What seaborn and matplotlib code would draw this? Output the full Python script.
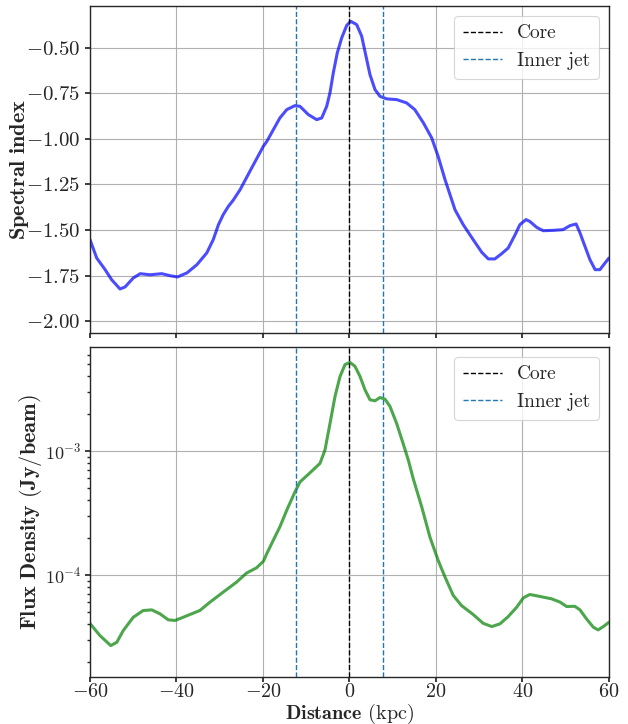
import matplotlib
matplotlib.use("Agg")
import matplotlib.pyplot as plt
import seaborn as sns
import pandas as pd

# Spectral index profile along the jet axis
alpha_kpc = [-60.0, -58.45, -56.5, -55.0, -53.06, -51.9, -50.0, -48.4, -46.1, -43.4,
             -41.5, -39.8, -37.6, -35.3, -33.0, -31.5, -30.3, -29.2, -28.0, -26.9,
             -25.3, -22.2, -19.9, -19.1, -16.1, -14.5, -12.6, -11.45, -9.53, -7.58,
             -6.43, -5.27, -4.51, -3.74, -2.82, -1.8, -0.65, 0.28, 1.66, 2.82,
             3.82, 4.74, 5.9, 7.05, 8.6, 10.9, 13.2, 15.1, 17.1, 19.0,
             20.5, 22.1, 24.4, 26.3, 28.6, 30.6, 32.1, 33.6, 35.2, 36.7,
             38.3, 39.4, 40.8, 41.7, 43.3, 44.8, 47.1, 49.4, 51.0, 52.4,
             53.3, 54.45, 55.6, 56.8, 57.9, 59.1, 60.0]
alpha_val = [-1.553, -1.654, -1.718, -1.773, -1.824, -1.813, -1.764, -1.740, -1.746, -1.740,
             -1.751, -1.758, -1.736, -1.691, -1.626, -1.553, -1.471, -1.416, -1.370, -1.337,
             -1.279, -1.141, -1.040, -1.013, -0.885, -0.839, -0.817, -0.821, -0.866, -0.894,
             -0.885, -0.821, -0.747, -0.637, -0.527, -0.445, -0.377, -0.354, -0.372, -0.436,
             -0.546, -0.647, -0.729, -0.766, -0.780, -0.784, -0.802, -0.839, -0.912, -0.994,
             -1.096, -1.224, -1.389, -1.471, -1.553, -1.623, -1.659, -1.659, -1.630, -1.599,
             -1.526, -1.471, -1.443, -1.453, -1.486, -1.504, -1.502, -1.498, -1.476, -1.467,
             -1.516, -1.590, -1.663, -1.718, -1.718, -1.681, -1.654]

# Flux density profile (Jy/beam)
flux_kpc = [-60.0, -59.6, -57.7, -55.2, -53.8, -52.3, -50.0, -47.7, -45.7, -43.8,
            -41.9, -40.35, -38.8, -36.9, -34.6, -32.25, -29.2, -26.1, -23.8, -21.5,
            -19.9, -19.1, -17.6, -16.1, -14.5, -12.6, -11.45, -9.13, -6.82, -5.66,
            -4.5, -3.35, -2.2, -1.04, 0.1, 1.27, 2.43, 3.58, 4.74, 5.9,
            7.05, 8.2, 9.36, 10.9, 12.4, 13.6, 14.75, 16.7, 18.6, 20.5,
            22.1, 24.0, 25.9, 28.6, 30.9, 32.9, 34.8, 36.7, 38.65, 40.2,
            41.7, 44.05, 46.75, 48.7, 50.2, 52.1, 53.3, 54.8, 56.4, 57.5,
            58.7, 60.0]
flux_val = [4.05e-5, 3.90e-5, 3.24e-5, 2.69e-5, 2.86e-5, 3.56e-5, 4.55e-5, 5.16e-5, 5.22e-5, 4.85e-5,
            4.34e-5, 4.29e-5, 4.50e-5, 4.79e-5, 5.16e-5, 6.03e-5, 7.26e-5, 8.75e-5, 1.035e-4, 1.14e-4,
            1.29e-4, 1.49e-4, 1.91e-4, 2.44e-4, 3.33e-4, 4.68e-4, 5.62e-4, 6.67e-4, 7.94e-4, 1.02e-3,
            1.67e-3, 2.75e-3, 3.98e-3, 4.97e-3, 5.19e-3, 4.82e-3, 4.00e-3, 3.12e-3, 2.59e-3, 2.54e-3,
            2.70e-3, 2.62e-3, 2.29e-3, 1.67e-3, 1.15e-3, 8.45e-4, 5.96e-4, 3.54e-4, 2.02e-4, 1.31e-4,
            9.59e-5, 6.82e-5, 5.66e-5, 4.79e-5, 4.07e-5, 3.83e-5, 4.03e-5, 4.61e-5, 5.48e-5, 6.53e-5,
            6.95e-5, 6.70e-5, 6.41e-5, 6.03e-5, 5.56e-5, 5.58e-5, 5.22e-5, 4.42e-5, 3.78e-5, 3.60e-5,
            3.83e-5, 4.15e-5]

core_pos = 0.0
inner_jet_pos = [-12.4, 7.7]
x_ticks = [-60, -40, -20, 0, 20, 40, 60]
alpha_ticks = [-0.50, -0.75, -1.00, -1.25, -1.50, -1.75, -2.00]

sns.set_theme(style="ticks")
plt.rcParams.update({
    "font.family": ["cmr10", "DejaVu Serif"],
    "mathtext.fontset": "cm",
    "axes.formatter.use_mathtext": True,
    "axes.unicode_minus": True,
    "font.size": 16,
    "axes.edgecolor": "#262626",
    "axes.linewidth": 1.0,
    "xtick.color": "#262626",
    "ytick.color": "#262626",
})

alpha_df = pd.DataFrame({"kpc": alpha_kpc, "alpha": alpha_val})
flux_df = pd.DataFrame({"kpc": flux_kpc, "flux": flux_val})

fig = plt.figure(figsize=(6.28, 7.24), dpi=100)
ax1 = fig.add_axes([0.1433, 0.540, 0.8264, 0.4517])
ax2 = fig.add_axes([0.1433, 0.0649, 0.8264, 0.4558], sharex=ax1)

sns.lineplot(data=alpha_df, x="kpc", y="alpha", ax=ax1, color="blue", alpha=0.7,
             linewidth=2.2, solid_joinstyle="round", solid_capstyle="round")
sns.lineplot(data=flux_df, x="kpc", y="flux", ax=ax2, color="green", alpha=0.7,
             linewidth=2.2, solid_joinstyle="round", solid_capstyle="round")

for ax in (ax1, ax2):
    ax.axvline(core_pos, color="black", linestyle="--", linewidth=1.0, label="Core")
    ax.axvline(inner_jet_pos[0], color="#1f77b4", linestyle="--", linewidth=1.0, label="Inner jet")
    ax.axvline(inner_jet_pos[1], color="#1f77b4", linestyle="--", linewidth=1.0)
    ax.grid(True, which="major", color="#b0b0b0", linewidth=0.8)
    ax.set_axisbelow(True)
    leg = ax.legend(loc="upper right", fontsize=14, frameon=True, framealpha=0.8,
                    edgecolor="#cccccc", handlelength=2.0, borderpad=0.45, labelspacing=0.5)
    leg.get_frame().set_linewidth(0.8)
    ax.tick_params(which="major", labelsize=15, length=3.5)
    ax.tick_params(which="minor", length=2)

ax1.set_xlim(-60, 60)
ax1.set_ylim(-2.066, -0.27)
ax1.set_yticks(alpha_ticks)
ax1.yaxis.set_major_formatter(matplotlib.ticker.FormatStrFormatter(r"$%.2f$"))
ax1.tick_params(labelbottom=False)
ax1.set_xlabel("")
ax1.set_ylabel(r"$\mathbf{Spectral\ index}$", fontsize=16)
ax1.yaxis.set_label_coords(-0.113, 0.5)

ax2.set_yscale("log")
ax2.set_ylim(1.50e-5, 6.9e-3)
ax2.set_xticks(x_ticks)
ax2.xaxis.set_major_formatter(matplotlib.ticker.FormatStrFormatter(r"$%d$"))
ax2.tick_params(axis="x", pad=1, labelsize=14.5)
ax2.tick_params(axis="y", which="major", labelsize=13, pad=2.5)
ax2.set_xlabel(r"$\mathbf{Distance}$ (kpc)", fontsize=14.5, labelpad=0.5)
ax2.set_ylabel(r"$\mathbf{Flux\ Density\ (Jy/beam)}$", fontsize=16)
ax2.yaxis.set_label_coords(-0.088, 0.5)

fig.savefig("out.png", dpi=100)
